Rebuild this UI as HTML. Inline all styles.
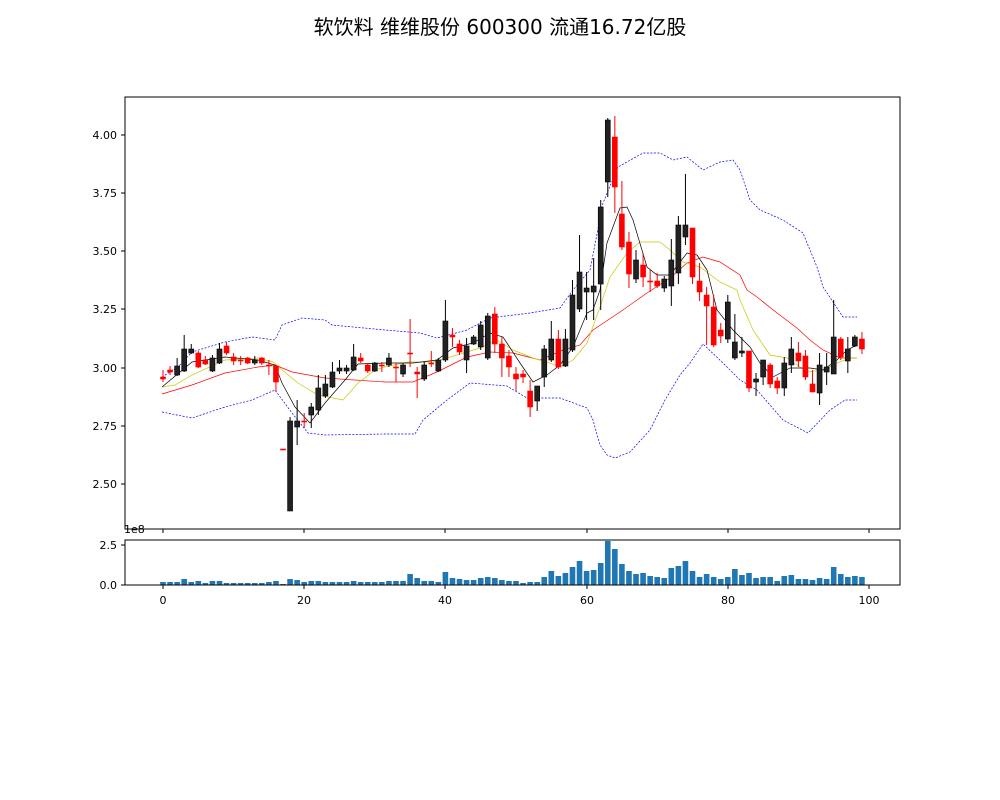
<!DOCTYPE html>
<html><head><meta charset="utf-8"><style>
html,body{margin:0;padding:0;background:#fff;}
svg{display:block;font-family:"DejaVu Sans","Liberation Sans","Noto Sans CJK SC",sans-serif;}
</style></head><body>
<svg id="s" width="1000" height="800" viewBox="0 0 1000 800" xmlns="http://www.w3.org/2000/svg">
<rect width="1000" height="800" fill="#fff"/>
<text x="500" y="34" font-size="20" text-anchor="middle" font-family="'DejaVu Sans','Noto Sans CJK SC','WenQuanYi Zen Hei',sans-serif">软饮料 维维股份 600300 流通16.72亿股</text>
<g id="lines"></g>
<g id="cands"></g>
<g id="vols"></g>
<rect x="125" y="97" width="775" height="432" fill="none" stroke="#000" stroke-width="1"/>
<rect x="125" y="540" width="775" height="45" fill="none" stroke="#000" stroke-width="1"/>
<g stroke="#000" stroke-width="1">
<line x1="121" y1="135" x2="125" y2="135"/><line x1="121" y1="193" x2="125" y2="193"/><line x1="121" y1="251" x2="125" y2="251"/><line x1="121" y1="309" x2="125" y2="309"/><line x1="121" y1="368" x2="125" y2="368"/><line x1="121" y1="426" x2="125" y2="426"/><line x1="121" y1="484" x2="125" y2="484"/>
<line x1="121" y1="545" x2="125" y2="545"/><line x1="121" y1="585" x2="125" y2="585"/>
<line x1="163" y1="529" x2="163" y2="533"/><line x1="304" y1="529" x2="304" y2="533"/><line x1="445" y1="529" x2="445" y2="533"/><line x1="587" y1="529" x2="587" y2="533"/><line x1="728" y1="529" x2="728" y2="533"/><line x1="869" y1="529" x2="869" y2="533"/>
<line x1="163" y1="585" x2="163" y2="589"/><line x1="304" y1="585" x2="304" y2="589"/><line x1="445" y1="585" x2="445" y2="589"/><line x1="587" y1="585" x2="587" y2="589"/><line x1="728" y1="585" x2="728" y2="589"/><line x1="869" y1="585" x2="869" y2="589"/>
</g>
<g font-size="11" text-anchor="end">
<text x="117" y="139">4.00</text><text x="117" y="197">3.75</text><text x="117" y="255">3.50</text><text x="117" y="313">3.25</text><text x="117" y="372">3.00</text><text x="117" y="430">2.75</text><text x="117" y="488">2.50</text>
<text x="117" y="549">2.5</text><text x="117" y="589">0.0</text>
</g>
<text x="124" y="533" font-size="11">1e8</text>
<g font-size="11" text-anchor="middle">
<text x="163" y="604">0</text><text x="304" y="604">20</text><text x="445" y="604">40</text><text x="587" y="604">60</text><text x="728" y="604">80</text><text x="869" y="604">100</text>
</g>
</svg>
<script>
var NS="http://www.w3.org/2000/svg";
function el(p,t,a){var e=document.createElementNS(NS,t);for(var k in a)e.setAttribute(k,a[k]);p.appendChild(e);return e;}
var C=[[377,379,370,382,'r'],[370,372,366,375,'r'],[366,375,358,376,'b'],[349,371,335,372,'b'],[349,353,344,354,'b'],[353,367,351,368,'r'],[360,364,356,365,'r'],[358,371,355,372,'b'],[349,363,343,364,'b'],[346,353,342,355,'r'],[357,361,353,365,'r'],[360,360,356,365,'r'],[358,363,357,364,'r'],[360,363,356,365,'b'],[358,363,357,365,'r'],[365,365,360,375,'r'],[366,382,365,392,'r'],[449,449,449,449,'r'],[421,511,417,511,'b'],[421,427,400,445,'b'],[421,421,413,428,'r'],[407,415,403,428,'b'],[388,410,375,415,'b'],[384,396,375,398,'b'],[372,387,362,388,'b'],[368,371,360,374,'b'],[368,371,365,374,'b'],[357,370,344,371,'b'],[358,361,353,363,'r'],[365,371,363,373,'r'],[363,371,362,372,'b'],[365,365,362,372,'r'],
[358,365,353,367,'b'],[367,367,363,382,'r'],[365,374,363,377,'b'],[353,353,319,367,'r'],[372,374,367,398,'r'],[365,379,362,381,'b'],[363,363,351,367,'r'],[360,371,358,372,'b'],[321,360,300,362,'b'],[335,337,328,347,'r'],[344,352,340,355,'r'],[346,360,338,373,'b'],[337,344,335,345,'b'],[325,347,321,350,'b'],[316,358,313,360,'b'],[314,344,307,353,'r'],[344,358,337,377,'r'],[356,367,350,377,'r'],[374,379,367,391,'r'],[374,377,370,383,'r'],[391,407,380,417,'r'],[386,401,386,411,'b'],[349,377,345,387,'b'],[339,360,321,362,'b'],[339,367,330,369,'r'],[339,366,329,367,'b'],[295,350,280,352,'b'],[272,309,235,312,'b'],[288,292,272,320,'b'],[286,292,258,320,'b'],[207,284,200,310,'b'],[120,182,118,197,'b'],[137,187,116,213,'r'],[214,247,181,250,'r'],[242,274,232,288,'r'],[260,279,250,283,'b'],[265,277,253,287,'r'],[281,281,270,292,'r'],[281,286,273,288,'r'],[279,288,276,292,'b'],[260,286,239,306,'b'],[225,273,216,284,'b'],[225,237,174,245,'b'],[228,277,228,284,'r'],[281,292,263,301,'r'],[295,306,287,345,'r'],[307,345,295,347,'r'],[330,336,323,343,'r'],[302,339,295,343,'b'],[342,358,314,360,'b'],[351,353,337,357,'b'],[351,388,351,392,'r'],[379,382,373,396,'b'],[360,377,360,385,'b'],[365,384,363,388,'r'],[381,388,377,394,'r'],[363,388,357,396,'b'],[349,365,337,373,'b'],[353,361,342,367,'r'],[356,377,350,380,'r'],[384,392,370,392,'r'],[365,393,353,405,'b'],[367,372,353,385,'b'],[337,374,300,374,'b'],[339,357,337,360,'r'],[349,361,337,373,'b'],[337,346,335,347,'b'],[339,349,332,354,'r']];
var V=[141,141,141,132,141,138,144,138,138,144,144,144,144,144,144,141,138,147,132,135,141,138,138,141,141,141,141,138,141,141,141,141,138,138,138,117,129,138,138,141,111,129,132,135,135,129,126,129,135,138,138,144,141,141,126,108,123,114,96,78,108,105,84,18,42,87,108,117,114,123,126,129,99,93,78,108,126,117,126,132,126,102,120,114,129,126,126,138,123,120,132,132,135,129,132,96,117,126,123,126];
var g=document.getElementById('cands'),vg=document.getElementById('vols');
function X(i){return 163+7.06*i;}
C.forEach(function(c,i){var x=X(i),col=c[4]=='r'?'#ff0000':'#222';var ec=c[4]=='r'?'#ff0000':'#000';
el(g,'line',{x1:x,x2:x,y1:c[2],y2:c[3],stroke:ec,'stroke-width':1});
var h=Math.max(c[1]-c[0],1);
el(g,'rect',{x:x-2.5,y:c[0],width:5,height:h,fill:col,stroke:ec,'stroke-width':0.6});});
V.forEach(function(v,i){var h=(150-v)/3;el(vg,'rect',{x:X(i)-2.8,y:585-h,width:5.6,height:h,fill:'#1f77b4'});});
var L=document.getElementById('lines');
function pl(pts,col,w,dash){el(L,'polyline',{points:pts,fill:'none',stroke:col,'stroke-width':w,'stroke-dasharray':dash||'none'});}
pl("162,377 178,367 192,352 225,342 252,337 275,340 282,325 302,318 325,320 332,325 385,330 420,333 437,338 467,330 490,318 530,313 560,308 573,290 590,270 603,203 618,167 643,153 660,153 673,160 687,157 703,170 720,162 733,160 740,170 750,200 760,210 783,220 803,233 817,267 823,287 843,317 857,317",'#0000ff',0.7,'2,1.5');
pl("162,412 192,418 225,407 252,400 275,390 292,413 308,433 325,435 385,434 415,434 423,420 447,400 470,383 507,386 527,398 560,398 587,408 593,420 600,445 607,455 615,458 630,452 650,430 665,400 680,375 690,363 703,344 723,363 740,380 757,390 783,420 808,433 830,410 845,400 857,400",'#0000ff',0.7,'2,1.5');
pl("162,394 192,385 225,373 258,367 275,365 292,372 325,378 385,382 413,382 437,372 467,357 490,352 513,353 540,360 563,350 580,345 593,330 620,312 647,293 670,278 687,263 703,257 720,262 740,275 747,290 757,297 777,313 797,328 810,340 823,350 840,358 857,358",'#ff0000',0.7);
pl("162,387 175,385 192,375 225,360 258,358 273,362 282,370 298,383 318,395 343,400 358,383 375,370 385,367 408,362 433,362 457,355 480,348 497,340 513,350 533,358 550,363 560,367 573,360 587,343 600,307 610,277 627,253 640,242 660,242 670,250 683,262 700,267 720,282 737,290 740,300 753,330 770,355 787,358 807,372 823,370 837,363 850,358 857,358",'#c8c800',0.7);
pl("162,387 192,362 225,357 258,360 275,365 282,383 295,407 310,423 325,403 345,380 358,364 385,363 413,363 437,360 453,348 473,343 490,333 503,337 520,363 533,382 547,375 560,365 573,347 587,313 593,310 600,290 607,243 620,208 627,207 633,220 647,267 657,275 670,275 687,253 697,255 707,270 717,310 733,330 750,347 760,363 773,377 790,368 810,368 823,370 837,360 847,350 857,345",'#000',0.7);
</script>
</body></html>
